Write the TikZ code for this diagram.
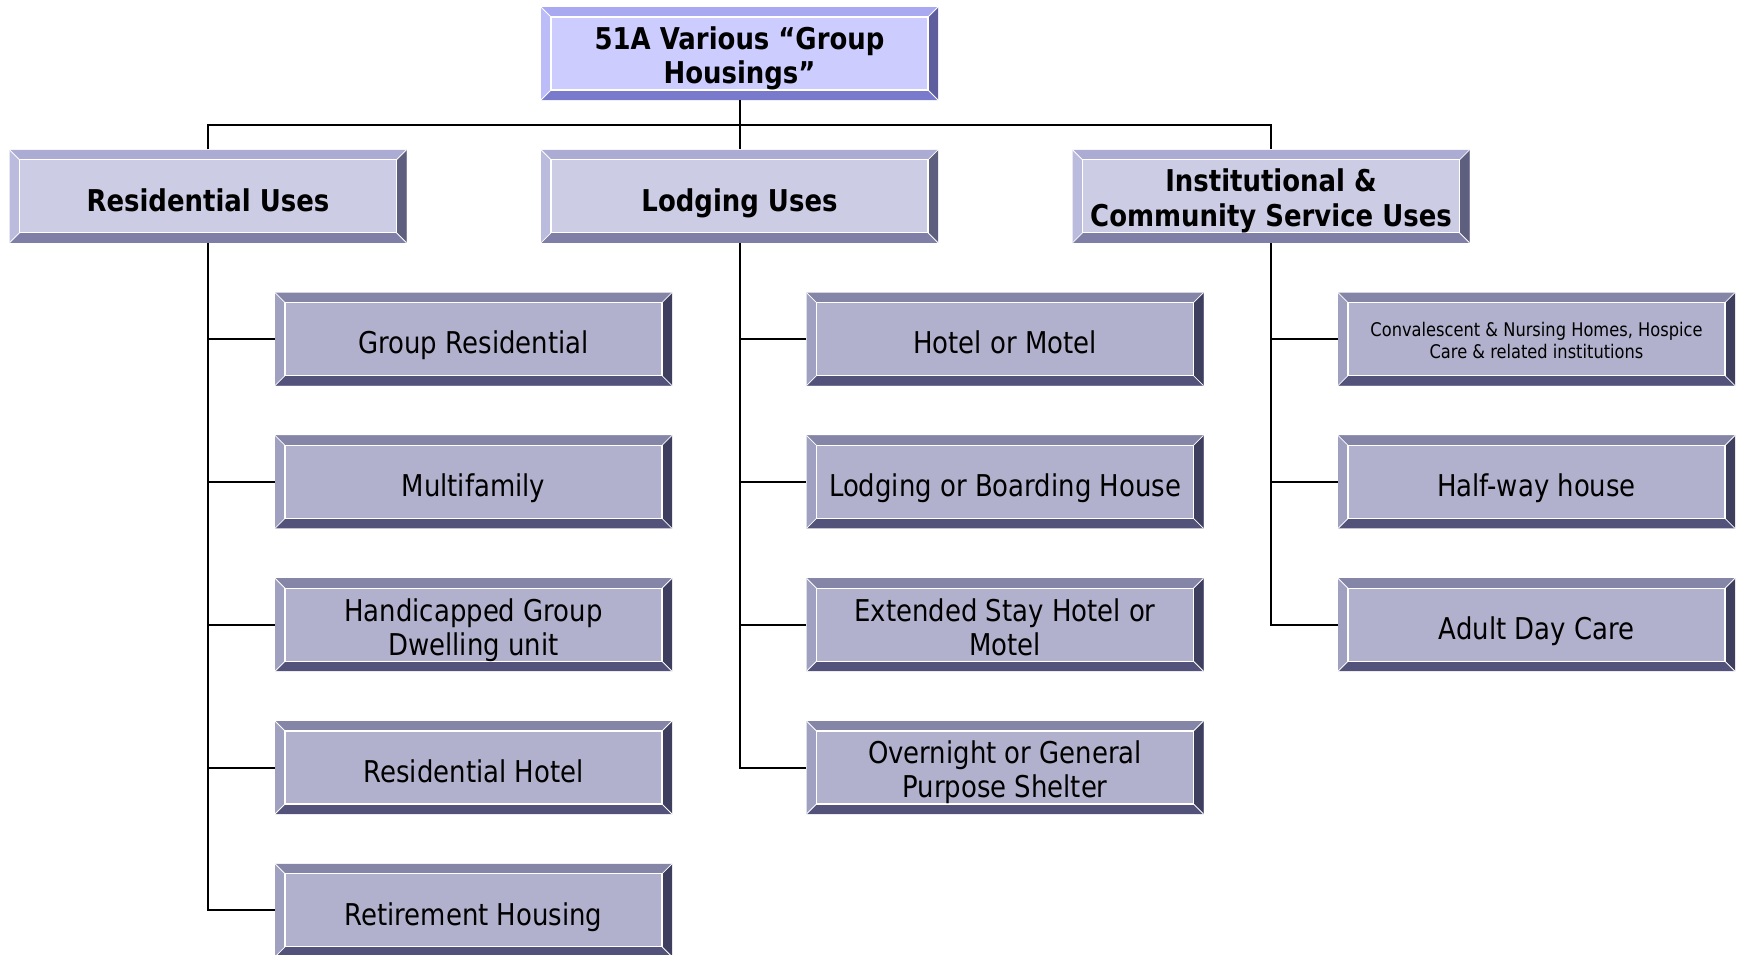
\documentclass[tikz,border=0pt]{standalone}
\usepackage{fontspec}
\setmainfont{DejaVu Sans}[FakeStretch=0.865]
\usepackage{tikz}
\usetikzlibrary{positioning}

\definecolor{topface}{HTML}{CCCCFF}
\definecolor{toptop}{HTML}{A9A9F2}
\definecolor{topleft}{HTML}{BCBCF8}
\definecolor{topright}{HTML}{5E5E9E}
\definecolor{topbottom}{HTML}{7A7ACC}
\definecolor{useface}{HTML}{CCCCE4}
\definecolor{usetop}{HTML}{ABABD3}
\definecolor{useleft}{HTML}{BBBBDD}
\definecolor{useright}{HTML}{5E5E7E}
\definecolor{usebottom}{HTML}{7E7EA6}
\definecolor{kindface}{HTML}{B1B1CD}
\definecolor{kindtop}{HTML}{8585A8}
\definecolor{kindleft}{HTML}{A0A0C0}
\definecolor{kindright}{HTML}{3E3E5E}
\definecolor{kindbottom}{HTML}{52527A}

% bevelled box: face, top, left, right, bottom
\tikzset{
    bevel/.style n args={5}{fill=#1, path picture={
        \path (path picture bounding box.north west) coordinate (bnw)
              (path picture bounding box.north east) coordinate (bne)
              (path picture bounding box.south west) coordinate (bsw)
              (path picture bounding box.south east) coordinate (bse);
        \path ([shift={(5pt,-5pt)}]bnw) coordinate (inw)
              ([shift={(-5pt,-5pt)}]bne) coordinate (ine)
              ([shift={(5pt,5pt)}]bsw) coordinate (isw)
              ([shift={(-5pt,5pt)}]bse) coordinate (ise);
        \fill[#2] (bnw) -- (bne) -- (ine) -- (inw) -- cycle;
        \fill[#3] (bnw) -- (inw) -- (isw) -- (bsw) -- cycle;
        \fill[#4] (bne) -- (ine) -- (ise) -- (bse) -- cycle;
        \fill[#5] (bsw) -- (isw) -- (ise) -- (bse) -- cycle;
        \draw[white, line width=0.6pt] (inw) rectangle (ise);
        \draw[white, line width=0.4pt] (bnw) -- (inw) (bne) -- (ine) (bsw) -- (isw) (bse) -- (ise);
    }}
}
\newcommand{\topstrut}{\rule{0pt}{1.25em}}
\newcommand{\pairstrut}{\rule{0pt}{2.3em}}
\newcommand{\footstrut}{\rule[-0.27em]{0pt}{0pt}}

\begin{document}
\begin{tikzpicture}[
    node distance=71.4pt,
    box/.style={rectangle, minimum width=198.5pt, minimum height=46.5pt, inner sep=0pt, align=center,
        execute at begin node=\topstrut, execute at end node=\footstrut, font=\fontsize{15}{17}\selectfont},
    pair/.style={execute at begin node=\pairstrut},
    title/.style={box, bevel={topface}{toptop}{topleft}{topright}{topbottom}, font=\fontsize{15}{17.2}\selectfont\bfseries},
    use/.style={box, bevel={useface}{usetop}{useleft}{useright}{usebottom}, font=\fontsize{15}{17.7}\selectfont\bfseries},
    kind/.style={box, bevel={kindface}{kindtop}{kindleft}{kindright}{kindbottom}},
    conn/.style={line width=1pt}
]
    \useasboundingbox (0,0) rectangle (869pt,-477pt);

    \node[title, pair] (top) at (369.75pt,-26.75pt) {51A Various “Group\\Housings”};
    \node[use, below of=top] (lodge) {Lodging Uses};
    \node[use, left of=lodge, xshift=-194.35pt] (res) {Residential Uses};
    \node[use, pair, right of=lodge, xshift=194.35pt] (inst) {Institutional \&\\Community Service Uses};

    \node[kind, below of=res, xshift=132.75pt] (grpres) {Group Residential};
    \node[kind, below of=grpres] (multi) {Multifamily};
    \node[kind, pair, below of=multi] (handi) {Handicapped Group\\Dwelling unit};
    \node[kind, below of=handi] (reshotel) {Residential Hotel};
    \node[kind, below of=reshotel] (retire) {Retirement Housing};

    \node[kind, below of=lodge, xshift=132.75pt] (hotel) {Hotel or Motel};
    \node[kind, below of=hotel] (board) {Lodging or Boarding House};
    \node[kind, pair, below of=board] (extstay) {Extended Stay Hotel or\\Motel};
    \node[kind, pair, below of=extstay] (shelter) {Overnight or General\\Purpose Shelter};

    \node[kind, pair, below of=inst, xshift=132.75pt, font=\fontsize{9.4}{11}\selectfont] (nursing) {Convalescent \& Nursing Homes, Hospice\\Care \& related institutions};
    \node[kind, below of=nursing] (halfway) {Half-way house};
    \node[kind, below of=halfway] (daycare) {Adult Day Care};

    \draw[conn] (top) -- (lodge);
    \draw[conn] (res.north) -- ++(0,12.25pt) -| (inst.north);

    \draw[conn] (res.south) |- (grpres.west);
    \draw[conn] (res.south) |- (multi.west);
    \draw[conn] (res.south) |- (handi.west);
    \draw[conn] (res.south) |- (reshotel.west);
    \draw[conn] (res.south) |- (retire.west);

    \draw[conn] (lodge.south) |- (hotel.west);
    \draw[conn] (lodge.south) |- (board.west);
    \draw[conn] (lodge.south) |- (extstay.west);
    \draw[conn] (lodge.south) |- (shelter.west);

    \draw[conn] (inst.south) |- (nursing.west);
    \draw[conn] (inst.south) |- (halfway.west);
    \draw[conn] (inst.south) |- (daycare.west);
\end{tikzpicture}
\end{document}
